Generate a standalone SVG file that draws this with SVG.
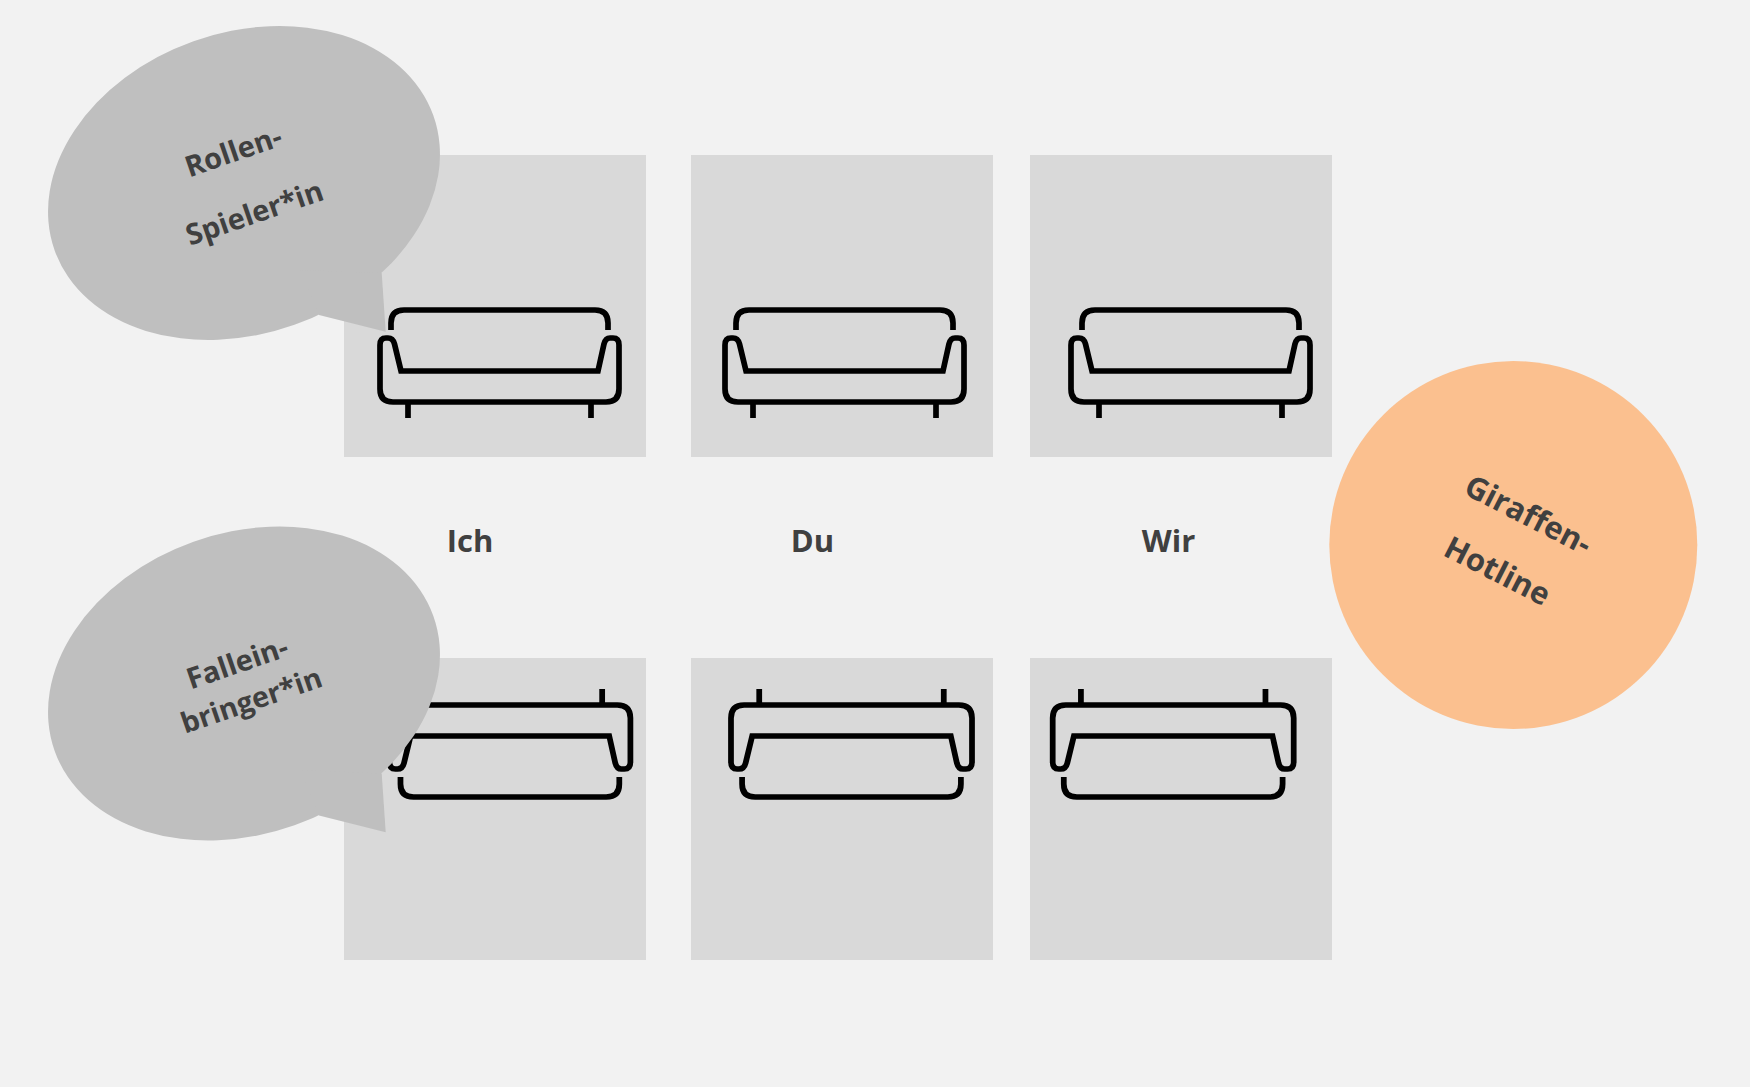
<svg xmlns="http://www.w3.org/2000/svg" width="1750" height="1087" viewBox="0 0 1750 1087">
<style>
.sq{fill:#d9d9d9}
.bub{fill:#bfbfbf}
.sofa{fill:none;stroke:#000;stroke-width:5.7;stroke-linejoin:miter}
text{font-family:"Open Sans","Liberation Sans",sans-serif;font-weight:700;fill:#404040;font-size:29px;text-anchor:middle}
.big{font-size:31px}
</style>
<defs>
<g id="sofa">
<path d="M391 330V323Q391 310 404 310H595Q608 310 608 323V330"/>
<path d="M380 345Q380 338 386 338H388Q393 338 394.5 344L401 371H598L604 344Q605.5 338 610 338H613Q619 338 619 345V389Q619 402 606 402H393Q380 402 380 389Z"/>
<path d="M408 402V418M591 402V418"/>
</g>
</defs>
<rect width="1750" height="1087" fill="#f2f2f2"/>
<g id="tiles">
<rect class="sq" x="344" y="155" width="302" height="302"/>
<rect class="sq" x="691" y="155" width="302" height="302"/>
<rect class="sq" x="1030" y="155" width="302" height="302"/>
<rect class="sq" x="344" y="658" width="302" height="302"/>
<rect class="sq" x="691" y="658" width="302" height="302"/>
<rect class="sq" x="1030" y="658" width="302" height="302"/>
</g>
<g id="sofas" class="sofa">
<use href="#sofa"/>
<use href="#sofa" x="345"/>
<use href="#sofa" x="691"/>
<use href="#sofa" transform="translate(6.2 1107) scale(1.0084 -1)"/>
<use href="#sofa" transform="translate(347.8 1107) scale(1.0084 -1)"/>
<use href="#sofa" transform="translate(669.5 1107) scale(1.0084 -1)"/>
</g>
<g id="bubble-rollen">
<ellipse class="bub" cx="244" cy="183" rx="201" ry="150.5" transform="rotate(-19.6 244 183)"/>
<polygon class="bub" points="381.7,273 385.7,331.7 319,315 300,270"/>
<g transform="rotate(-19 240 180)">
<text x="243" y="161">Rollen-</text>
<text x="243" y="226">Spieler*in</text>
</g>
</g>
<g id="bubble-fallein">
<ellipse class="bub" cx="244" cy="683.5" rx="201" ry="150.5" transform="rotate(-19.6 244 683.5)"/>
<polygon class="bub" points="381.7,773.5 385.7,832.2 319,815.5 300,770"/>
<g transform="rotate(-19 240 680)">
<text x="243" y="673">Fallein-</text>
<text x="244" y="713" style="font-size:28.5px">bringer*in</text>
</g>
</g>
<g id="label-ich"><text class="big" x="470" y="552">Ich</text></g>
<g id="label-du"><text class="big" x="812.5" y="552">Du</text></g>
<g id="label-wir"><text class="big" x="1168.5" y="552">Wir</text></g>
<g id="giraffe">
<circle cx="1513.3" cy="545" r="184" fill="#fbc08f"/>
<g transform="rotate(27 1513 545)">
<text class="big" x="1513" y="522">Giraffen-</text>
<text class="big" x="1511" y="586">Hotline</text>
</g>
</g>
</svg>
